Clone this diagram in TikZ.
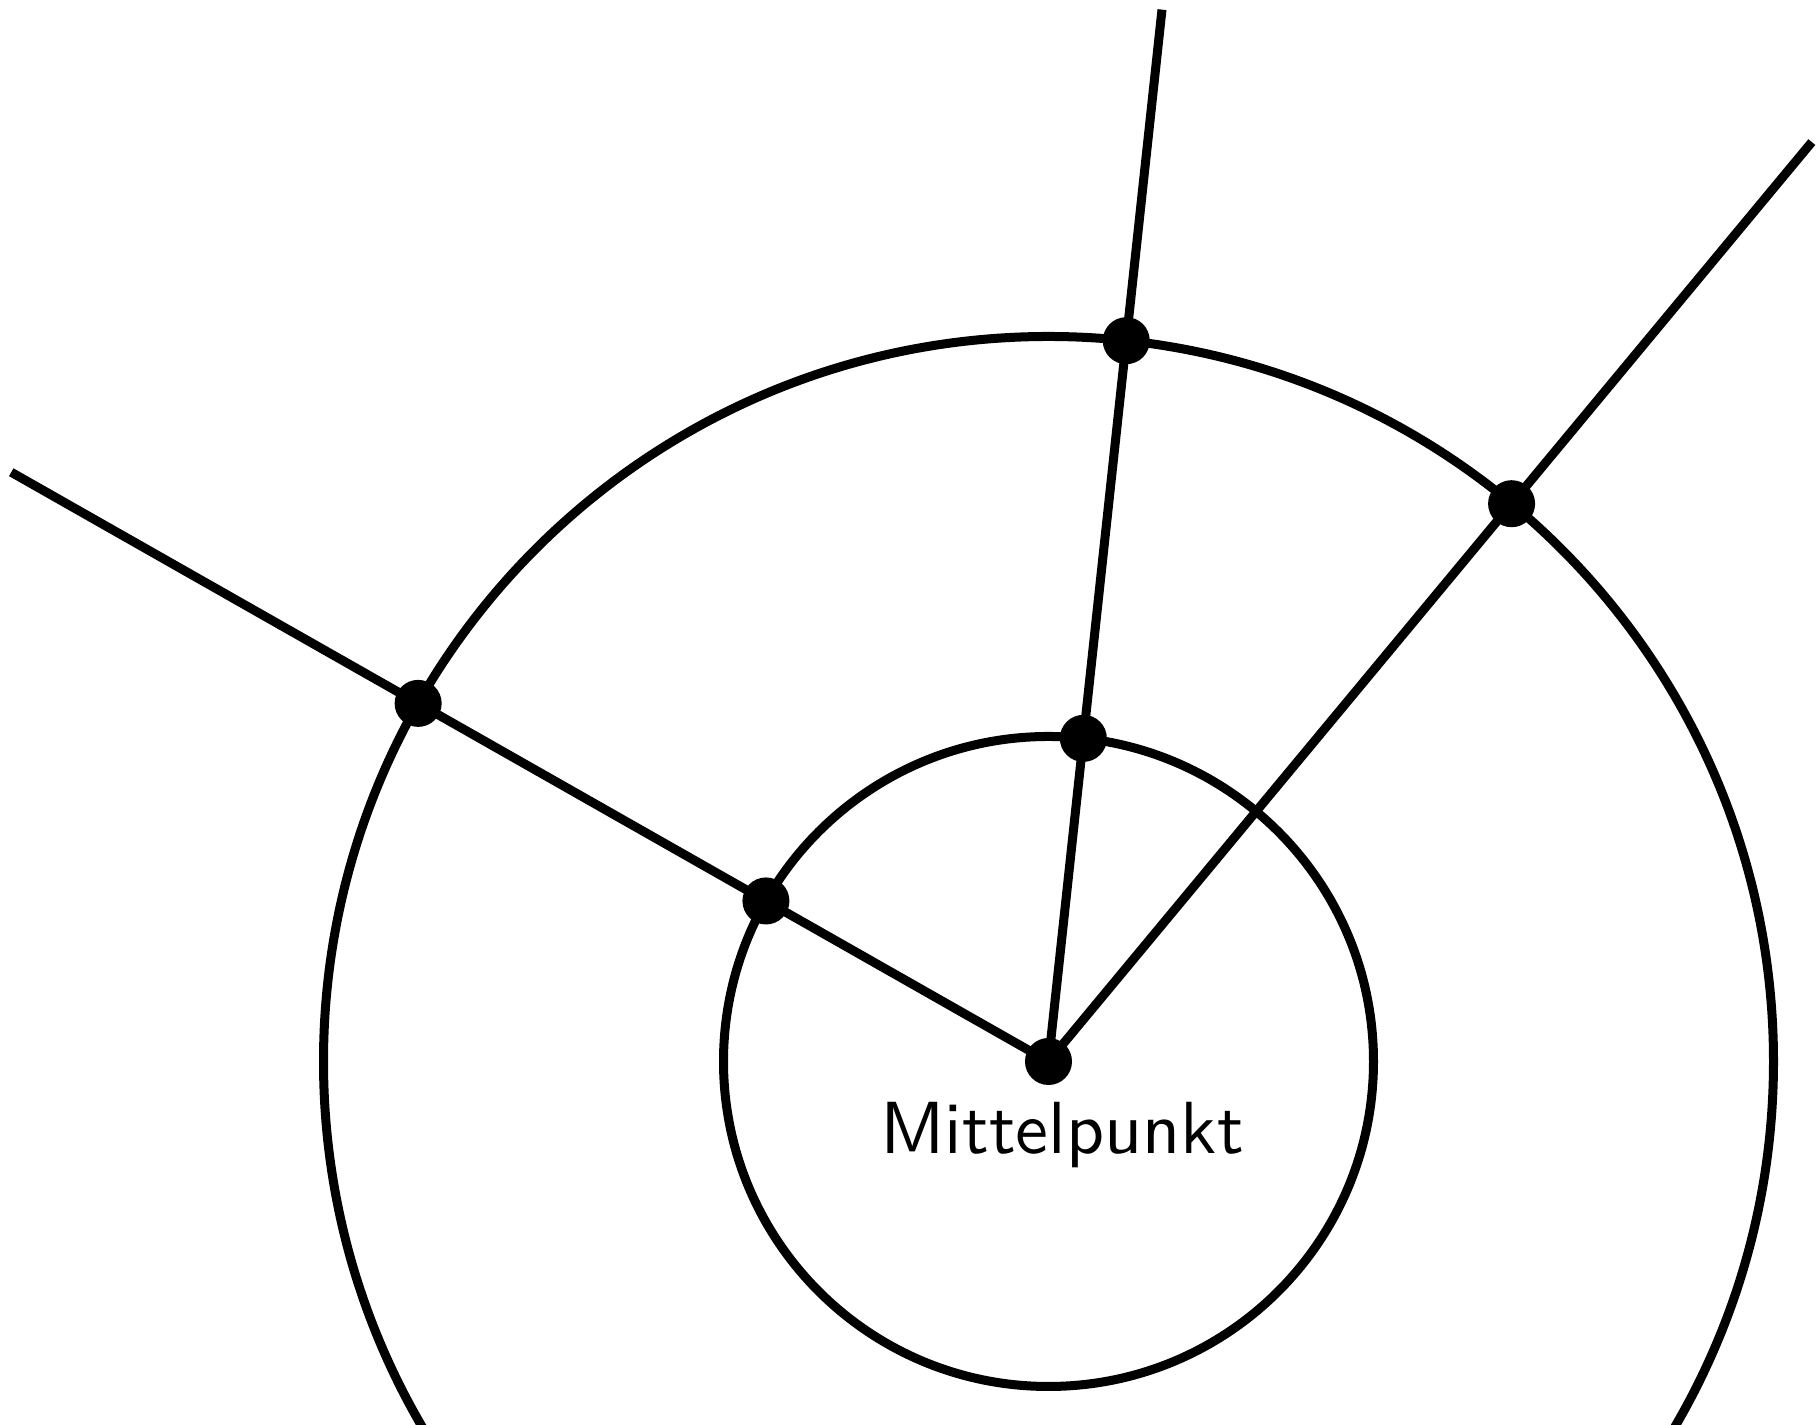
\documentclass[tikz,border=0pt]{standalone}
\usepackage{fontspec}
\newfontfamily\lblfont{lmsans10-regular.otf}
\usetikzlibrary{calc}
\begin{document}
\begin{tikzpicture}[x=0.01cm,y=0.01cm,
  thickline/.style={line width=9*0.2845pt, line cap=butt},
  dot/.style={circle, fill=black, inner sep=0pt, minimum size=47*0.2845pt},
  lbl/.style={font=\lblfont\fontsize{21}{25}\selectfont, inner sep=0pt}]
\useasboundingbox (0,0) rectangle (1817,1425);
\clip (0,0) rectangle (1817,1425);
\coordinate (C) at (1048.5,363.5);
\coordinate (E1) at ($(C)+(150.4:1193)$);
\coordinate (E2) at ($(C)+(83.84:1058)$);
\coordinate (E3) at ($(C)+(50.3:1195)$);
% circles
\draw[thickline] (C) circle[radius=325];
\draw[thickline] (C) circle[radius=725];
% rays
\draw[thickline] (C) -- (E1);
\draw[thickline] (C) -- (E2);
\draw[thickline] (C) -- (E3);
% dots
\node[dot] (m) at (C) {};
\node[dot] (s1) at ($(C)+(150.4:325)$) {};
\node[dot] (s2) at ($(C)+(83.84:325)$) {};
\node[dot] (l1) at ($(C)+(150.4:725)$) {};
\node[dot] (l2) at ($(C)+(83.84:725)$) {};
\node[dot] (l3) at ($(C)+(50.3:725)$) {};
% label
\node[lbl, anchor=base] (t) at (1062,271) {Mittelpunkt};
\end{tikzpicture}
\end{document}
